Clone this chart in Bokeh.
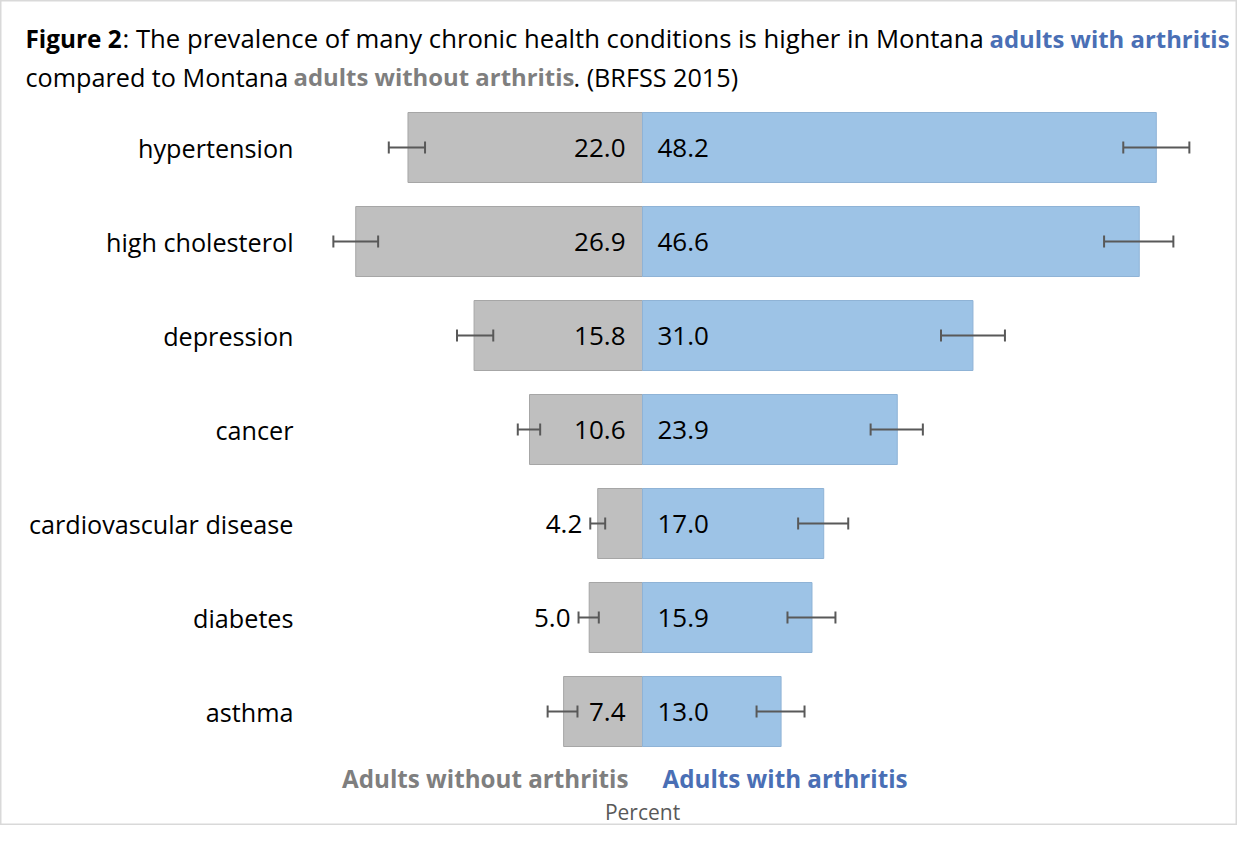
from bokeh.plotting import figure
from bokeh.models import Range1d, Whisker, TeeHead, ColumnDataSource
from bokeh.core.properties import value
from bokeh.embed import file_html
from bokeh.resources import INLINE

# ---- data ----
categories = ["hypertension", "high cholesterol", "depression", "cancer",
              "cardiovascular disease", "diabetes", "asthma"]
without_arthritis = [22.0, 26.9, 15.8, 10.6, 4.2, 5.0, 7.4]
without_ci_low = [20.4, 24.8, 14.0, 9.6, 3.5, 4.1, 6.1]
without_ci_high = [23.8, 29.0, 17.4, 11.7, 4.9, 6.0, 8.9]
with_arthritis = [48.2, 46.6, 31.0, 23.9, 17.0, 15.9, 13.0]
with_ci_low = [45.1, 43.3, 28.0, 21.4, 14.6, 13.6, 10.7]
with_ci_high = [51.3, 49.8, 34.0, 26.3, 19.3, 18.1, 15.2]

FONT = "Open Sans"
W, H = 1237, 825
PX_PER_UNIT = 10.66
CX = 642          # pixel of zero line
ROW0 = 147        # pixel of first row centre
ROW_PX = 94

x0 = -CX / PX_PER_UNIT
x1 = x0 + W / PX_PER_UNIT
y_top = -ROW0 / ROW_PX
y_bot = y_top + H / ROW_PX

def dx(px):
    return (px - CX) / PX_PER_UNIT

def dy(py):
    return (py - ROW0) / ROW_PX

p = figure(width=W, height=H, output_backend="svg", toolbar_location=None,
           x_range=Range1d(x0, x1), y_range=Range1d(y_bot, y_top),
           min_border=0)
p.axis.visible = False
p.grid.visible = False
p.outline_line_color = "#D9D9D9"
p.outline_line_width = 2
p.background_fill_color = "white"

n = len(categories)
ys = list(range(n))
neg = [-v for v in without_arthritis]

src = ColumnDataSource(dict(y=ys, cat=categories, wo=without_arthritis, neg=neg,
                            wi=with_arthritis,
                            wlo=[-v for v in without_ci_low], whi=[-v for v in without_ci_high],
                            alo=with_ci_low, ahi=with_ci_high))

bh = 70 / ROW_PX
p.hbar(y="y", left="neg", right=0, height=bh, source=src,
       fill_color="#BFBFBF", line_color="#A6A6A6", line_width=1)
p.hbar(y="y", left=0, right="wi", height=bh, source=src,
       fill_color="#9DC3E6", line_color="#8FB3D6", line_width=1)

for lo, hi in (("whi", "wlo"), ("alo", "ahi")):
    w = Whisker(base="y", lower=lo, upper=hi, source=src, dimension="width",
                line_color="#595959", line_width=2, level="annotation",
                lower_head=TeeHead(size=12, line_color="#595959", line_width=2),
                upper_head=TeeHead(size=12, line_color="#595959", line_width=2))
    p.add_layout(w)

# category labels
p.text(x=[dx(293)] * n, y=ys, text=categories, text_align="right",
       text_baseline="middle", text_font=value(FONT), text_font_size="25.2px",
       text_color="black")

# value labels: gray (inside base, or outside when bar too small)
lab_x, lab_off = [], []
for v, hi in zip(without_arthritis, without_ci_high):
    if v < 6:
        lab_x.append(-hi); lab_off.append(-8)
    else:
        lab_x.append(0); lab_off.append(-17)
p.text(x=lab_x, y=ys, text=[f"{v:.1f}" for v in without_arthritis],
       x_offset=lab_off, text_align="right", text_baseline="middle",
       text_font=value(FONT), text_font_size="26px", text_color="black")
p.text(x=[0] * n, y=ys, text=[f"{v:.1f}" for v in with_arthritis],
       x_offset=15, text_align="left", text_baseline="middle",
       text_font=value(FONT), text_font_size="26px", text_color="black")

# title (mixed styling)
BLUE = "#4A6FB5"
GRAY = "#7F7F7F"
def seg(px, py, txt, color="black", bold=False, size="25.7px", align="left"):
    p.text(x=[dx(px)], y=[dy(py)], text=[txt], text_align=align,
           text_baseline="middle", text_font=value(FONT), text_font_size=size,
           text_font_style="bold" if bold else "normal", text_color=color)

seg(25, 38, "Figure 2", bold=True, size="24.3px")
seg(122, 38, ": The prevalence of many chronic health conditions is higher in Montana")
seg(989, 38, "adults with arthritis", color=BLUE, bold=True, size="23.9px")
seg(25, 76, "compared to Montana", size="25.2px")
seg(293, 76, "adults without arthritis", color=GRAY, bold=True, size="23.9px")
seg(573, 76, ". (BRFSS 2015)", size="25.2px")

# bottom legend-like labels
seg(628, 778, "Adults without arthritis", color=GRAY, bold=True, size="24.2px", align="right")
seg(662, 778, "Adults with arthritis", color=BLUE, bold=True, size="24.2px")
seg(642, 811, "Percent", color="#595959", size="21px", align="center")

open("out.html", "w").write(file_html(p, INLINE))
